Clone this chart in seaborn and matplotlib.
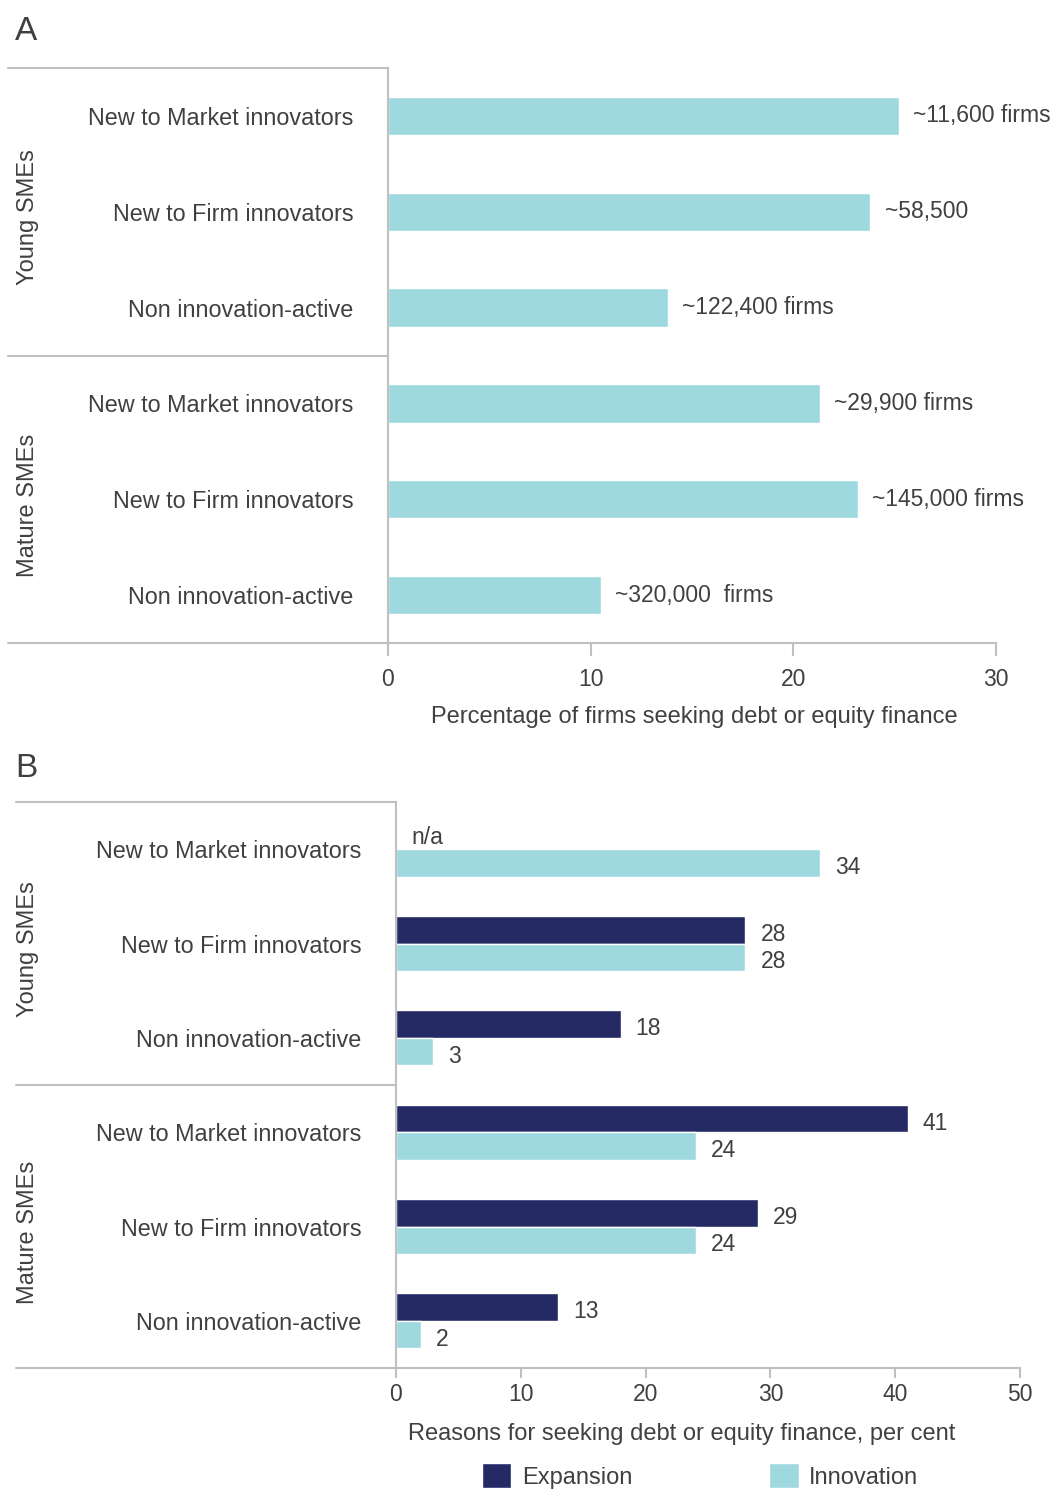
import matplotlib
matplotlib.use("Agg")
import matplotlib.pyplot as plt
from matplotlib.patches import Patch
import numpy as np
import pandas as pd
import seaborn as sns

sns.set_theme(style="white")
plt.rcParams['font.family'] = ['Liberation Sans', 'DejaVu Sans']

# ---- data ----
categories = ["New to Market innovators", "New to Firm innovators", "Non innovation-active"]
groups = ["Young SMEs", "Mature SMEs"]

# Panel A: percentage of firms seeking debt or equity finance
pct_seeking = [25.2, 23.8, 13.8, 21.3, 23.2, 10.5]
firm_counts = ["~11,600 firms", "~58,500", "~122,400 firms",
               "~29,900 firms", "~145,000 firms", "~320,000  firms"]

# Panel B: reasons for seeking finance, per cent
expansion = [np.nan, 28, 18, 41, 29, 13]
innovation = [34, 28, 3, 24, 24, 2]

light = "#9fd9e0"
dark = "#252a65"
grey_line = "#c0c0c0"
txt = "#404040"

rows = [f"{g}|{c}" for g in groups for c in categories]

df_a = pd.DataFrame({"row": rows, "pct": pct_seeking})
df_b = pd.DataFrame({
    "row": rows * 2,
    "reason": ["Expansion"] * 6 + ["Innovation"] * 6,
    "value": expansion + innovation,
})

fig = plt.figure(figsize=(10.54, 14.9), dpi=100)
W, H = 1054, 1490


def ax_rect(x0, x1, y0, y1):
    return [x0 / W, 1 - y1 / H, (x1 - x0) / W, (y1 - y0) / H]


def style_panel(ax, x0px, x1px, left_px, xmax, tick_len, tick_pad):
    for s in ["top", "right"]:
        ax.spines[s].set_visible(False)
    ax.spines["left"].set_color(grey_line)
    ax.spines["bottom"].set_color(grey_line)
    ax.spines["left"].set_linewidth(1.5)
    ax.spines["bottom"].set_linewidth(1.5)
    ax.set_xlim(0, xmax)
    ax.set_ylim(5.5, -0.5)
    ax.tick_params(axis="x", bottom=True, direction="out", length=tick_len, width=1.5,
                   color=grey_line, labelsize=16.5, labelcolor=txt, pad=tick_pad)
    ax.tick_params(axis="y", left=False, length=0, labelsize=16.8, labelcolor=txt, pad=25)
    ax.set_yticks(range(6))
    ax.set_yticklabels(categories * 2)
    ax.set_ylabel("")
    # frame lines extending to the left of the axes
    fx = (left_px - x0px) / (x1px - x0px)
    kw = dict(transform=ax.transAxes, color=grey_line, lw=1.5, clip_on=False)
    ax.plot([fx, 0], [1, 1], **kw)
    ax.plot([fx, 0], [0.5, 0.5], **kw)
    ax.plot([fx, 0], [0, 0], **kw)
    # group labels
    gx = (28 - x0px) / (x1px - x0px)
    ax.text(gx, 0.74, groups[0], transform=ax.transAxes, rotation=90,
            ha="center", va="center", fontsize=17, color=txt)
    ax.text(gx, 0.24, groups[1], transform=ax.transAxes, rotation=90,
            ha="center", va="center", fontsize=17, color=txt)


# ---- Panel A ----
axA = fig.add_axes(ax_rect(388, 996, 68, 643))
sns.barplot(data=df_a, y="row", x="pct", orient="h", color=light, width=0.4,
            saturation=1, ax=axA, errorbar=None)
style_panel(axA, 388, 996, 8, 30, 9, 9)
axA.set_xticks([0, 10, 20, 30])
axA.set_xlabel("Percentage of firms seeking debt or equity finance", fontsize=17, color=txt)
axA.xaxis.set_label_coords(0.503, -0.109)
for i, (v, lab) in enumerate(zip(pct_seeking, firm_counts)):
    axA.text(v + 0.7, i, lab, ha="left", va="center", fontsize=16.5, color=txt)
fig.text(26 / W, 1 - 31 / H, "A", ha="center", va="center", fontsize=24, color=txt)

# ---- Panel B ----
axB = fig.add_axes(ax_rect(396, 1020, 802, 1368))
sns.barplot(data=df_b, y="row", x="value", hue="reason", orient="h",
            palette={"Expansion": dark, "Innovation": light}, width=0.58,
            saturation=1, ax=axB, errorbar=None, legend=False)
style_panel(axB, 396, 1020, 16, 50, 7, 4)
axB.set_xticks([0, 10, 20, 30, 40, 50])
axB.set_xlabel("Reasons for seeking debt or equity finance, per cent", fontsize=17, color=txt)
axB.xaxis.set_label_coords(0.458, -0.097)
off = 0.145
for i, (e, n) in enumerate(zip(expansion, innovation)):
    if np.isnan(e):
        axB.text(1.2, i - off + 0.02, "n/a", ha="left", va="center", fontsize=16.5, color=txt)
    else:
        axB.text(e + 1.2, i - off + 0.05, f"{e:.0f}", ha="left", va="center", fontsize=16.5, color=txt)
    axB.text(n + 1.2, i + off + 0.05, f"{n:.0f}", ha="left", va="center", fontsize=16.5, color=txt)
fig.text(26 / W, 1 - 768 / H, "B", ha="center", va="center", fontsize=24, color=txt)

handles = [Patch(facecolor=dark, label="Expansion"), Patch(facecolor=light, label="Innovation")]
leg = fig.legend(handles=handles, loc="center", bbox_to_anchor=(700 / W, 1 - 1476 / H),
                 ncol=2, frameon=False, fontsize=17, handlelength=1.25, handleheight=1.25,
                 columnspacing=5.8, handletextpad=0.45)
for t in leg.get_texts():
    t.set_color(txt)

fig.savefig("out.png", dpi=100)
